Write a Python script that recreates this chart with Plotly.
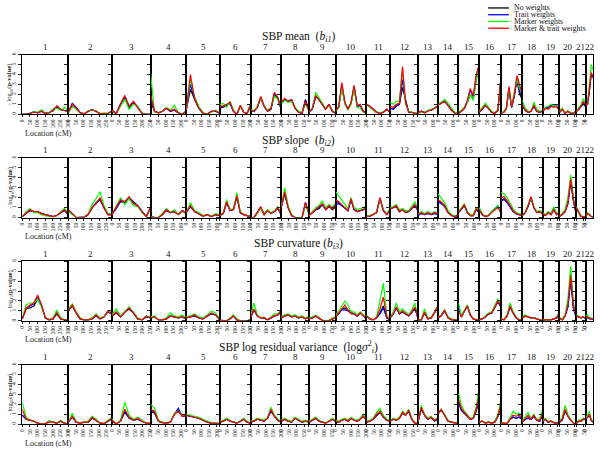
import plotly.graph_objects as go

# ---------------- data ----------------
CHROMS = [str(i) for i in range(1, 23)]
CHROM_LEN = [300, 284, 252, 232, 219, 200, 200, 181, 174, 200, 155, 181,
             129, 135, 135, 142, 139, 132, 110, 110, 61, 48]
TICK_STEP = 50
Y_TICKS = [0, 1, 2, 3, 4, 5, 6]

PANEL_TITLES = [
    "SBP mean  (<i>b</i><sub><i>i1</i></sub>)",
    "SBP slope  (<i>b</i><sub><i>i2</i></sub>)",
    "SBP curvature (<i>b</i><sub><i>i3</i></sub>)",
    "SBP log residual variance  (log<i>σ</i><sup>2</sup><sub><i>i</i></sub>)",
]
SERIES_NAMES = ["No weights", "Trait weights", "Marker weights", "Marker & trait weights"]
SERIES_COLORS = ["#000000", "#0000ff", "#00ff00", "#ff0000"]

# ---- SBP mean ----
MEAN_NONE = [
    [0, 0, 0.1, 0.25, 0.15, 0.3, 0.1, 0.15, 0.35, 0.75, 0.45, 0.35, 0.3],
    [0.2, 1.05, 0.65, 0.15, 0.05, 0.3, 0.45, 0.3, 0.05, 0.1, 0.1, 0.3],
    [0.4, 0.05, 1.0, 1.7, 0.7, 1.2, 0.7, 0.1, 0, 0],
    [1.3, 0.3, 0.15, 0.3, 0.6, 0.3, 0.4, 0.15, 0, 0.3],
    [0.4, 2.5, 1.5, 0.6, 0.1, 0, 0.3, 0.3, 0.1],
    [0.6, 0.7, 0.9, 1.1, 0.3, 0, 0.8, 0.2, 0.1, 0.8],
    [0.4, 0.3, 0.7, 1.6, 0.8, 0.3, 0.5, 2.0, 1.6, 0.5],
    [1.2, 1.5, 1.3, 1.4, 0.6, 0.2, 0.1, 1.5, 0.3],
    [0.2, 0.5, 1.8, 1.5, 1.0, 0.5, 1.0, 0.3, 0.1],
    [0.3, 0.7, 2.8, 1.1, 0.5, 1.1, 2.7, 0.8, 0.9, 0.3, 0.1],
    [1.0, 0.8, 0.5, 0.2, 0.1, 0.2, 0.5, 0.2],
    [0.6, 0.5, 0.8, 1.0, 2.7, 1.5, 0.2, 0.2, 0.1, 0.1],
    [0.1, 0.3, 0.15, 0.35, 0.4, 0.6, 0.8],
    [0.9, 1.1, 1.3, 0.9, 0.4, 0.1, 0.05],
    [0.1, 0.3, 0.6, 1.2, 2.0, 1.5, 3.5, 4.8],
    [0.2, 0.5, 0.9, 0.6, 0.2, 0.1, 0.4, 3.5],
    [0.1, 0.2, 0.5, 2.5, 0.7, 1.8, 3.4, 2.0, 1.5],
    [0.9, 0.4, 0.2, 0.3, 0.8, 0.3, 0.2, 0.3],
    [0.3, 0.6, 0.6, 0.8, 0.8, 0.8, 0.4],
    [0.2, 0.5, 0.1, 0.3, 0.1, 0.1, 0.3],
    [0.3, 0.5, 0.8, 1.0, 0.8],
    [0.9, 1.0, 2.3, 4.0, 3.7],
]
MEAN_TRAIT = [
    [0, 0, 0.1, 0.25, 0.15, 0.3, 0.1, 0.15, 0.4, 0.8, 0.45, 0.35, 0.3],
    [0.2, 1.1, 0.7, 0.15, 0.05, 0.3, 0.45, 0.3, 0.05, 0.1, 0.1, 0.3],
    [0.4, 0.05, 1.0, 1.8, 0.75, 1.25, 0.7, 0.1, 0, 0],
    [1.5, 0.3, 0.15, 0.3, 0.6, 0.3, 0.45, 0.15, 0, 0.3],
    [0.4, 3.0, 1.5, 0.6, 0.1, 0, 0.3, 0.3, 0.1],
    [0.7, 0.8, 0.9, 1.1, 0.3, 0, 0.85, 0.2, 0.1, 0.85],
    [0.4, 0.3, 0.7, 1.7, 0.8, 0.3, 0.55, 2.1, 1.6, 0.5],
    [1.2, 1.5, 1.3, 1.4, 0.6, 0.2, 0.1, 1.4, 0.3],
    [0.2, 0.5, 1.8, 1.5, 1.0, 0.5, 1.0, 0.3, 0.1],
    [0.3, 0.75, 3.0, 1.1, 0.5, 1.1, 2.8, 0.8, 0.9, 0.3, 0.1],
    [1.0, 0.8, 0.5, 0.2, 0.1, 0.2, 0.5, 0.2],
    [0.6, 0.5, 0.9, 1.0, 3.5, 1.3, 0.2, 0.2, 0.1, 0.1],
    [0.1, 0.3, 0.2, 0.35, 0.4, 0.6, 0.8],
    [0.9, 1.1, 1.3, 0.9, 0.4, 0.1, 0.05],
    [0.1, 0.3, 0.6, 1.3, 2.4, 1.8, 3.8, 4.9],
    [0.2, 0.5, 0.9, 0.6, 0.2, 0.1, 0.4, 3.6],
    [0.1, 0.2, 0.5, 2.6, 0.7, 1.9, 3.6, 2.3, 1.8],
    [0.9, 0.4, 0.2, 0.3, 0.8, 0.3, 0.2, 0.3],
    [0.3, 0.6, 0.7, 0.9, 1.0, 0.9, 0.4],
    [0.2, 0.5, 0.1, 0.3, 0.1, 0.1, 0.3],
    [0.3, 0.5, 0.8, 1.1, 0.8],
    [0.9, 1.0, 2.4, 4.1, 3.7],
]
MEAN_MARKER = [
    [0, 0, 0.05, 0.25, 0.2, 0.45, 0.15, 0.1, 0.55, 0.6, 0.4, 0.7, 0.3],
    [0.1, 0.8, 0.5, 0.1, 0.05, 0.35, 0.45, 0.35, 0.05, 0.15, 0.1, 0.3],
    [0.3, 0.05, 0.8, 1.5, 0.5, 1.0, 0.8, 0.15, 0, 0],
    [4.1, 0.2, 0.15, 0.3, 0.7, 0.4, 0.9, 0.2, 0, 0.3],
    [0.4, 3.5, 1.8, 0.8, 0.2, 0, 0.2, 0.4, 0.1],
    [1.0, 1.1, 0.7, 1.3, 0.4, 0.05, 0.8, 0.2, 0.15, 1.0],
    [0.5, 0.4, 0.8, 1.6, 0.9, 0.4, 0.7, 1.8, 1.5, 0.6],
    [1.0, 1.4, 1.2, 1.3, 0.7, 0.3, 0.2, 1.0, 0.4],
    [0.2, 0.6, 2.2, 1.7, 1.1, 0.6, 0.9, 0.4, 0.1],
    [0.3, 0.7, 2.6, 1.0, 0.4, 1.0, 2.5, 0.7, 0.6, 0.2, 0.1],
    [1.0, 0.7, 0.4, 0.3, 0.1, 0.3, 0.4, 0.3],
    [1.2, 1.0, 1.3, 1.3, 4.5, 1.0, 0.3, 0.2, 0.1, 0.1],
    [0.1, 0.2, 0.2, 0.4, 0.5, 0.6, 0.9],
    [0.9, 1.2, 1.5, 1.1, 0.6, 0.2, 0.1],
    [0.2, 0.4, 0.7, 1.2, 2.0, 1.4, 3.5, 4.6],
    [0.3, 0.7, 1.1, 0.7, 0.3, 0.1, 0.5, 3.3],
    [0.1, 0.3, 0.5, 2.5, 0.8, 2.2, 3.5, 2.6, 2.2],
    [1.4, 0.6, 0.3, 0.3, 1.2, 0.5, 0.3, 0.4],
    [0.4, 0.7, 0.8, 1.0, 0.8, 0.9, 0.5],
    [0.3, 0.6, 0.2, 0.3, 0.2, 0.1, 0.3],
    [0.3, 0.6, 1.0, 1.6, 1.0],
    [0.9, 1.1, 3.0, 5.0, 4.5],
]
MEAN_BOTH = [
    [0, 0, 0.05, 0.2, 0.15, 0.3, 0.1, 0.15, 0.4, 0.85, 0.5, 0.35, 0.3],
    [0.2, 1.0, 0.6, 0.15, 0.05, 0.3, 0.45, 0.3, 0.05, 0.1, 0.1, 0.3],
    [0.4, 0.05, 1.0, 1.9, 0.8, 1.3, 0.7, 0.1, 0, 0],
    [2.0, 0.3, 0.15, 0.3, 0.6, 0.35, 0.5, 0.15, 0, 0.3],
    [0.4, 4.0, 1.6, 0.6, 0.1, 0, 0.3, 0.35, 0.1],
    [0.8, 0.85, 1.0, 1.2, 0.3, 0, 0.9, 0.2, 0.1, 0.9],
    [0.4, 0.3, 0.7, 1.8, 0.8, 0.3, 0.6, 2.2, 1.7, 0.5],
    [1.2, 1.6, 1.3, 1.5, 0.6, 0.2, 0.1, 1.3, 0.3],
    [0.2, 0.6, 1.9, 1.5, 1.0, 0.5, 1.0, 0.3, 0.1],
    [0.3, 0.8, 3.2, 1.2, 0.5, 1.2, 2.9, 0.9, 1.0, 0.3, 0.1],
    [1.0, 0.8, 0.5, 0.2, 0.1, 0.2, 0.5, 0.2],
    [0.8, 0.7, 1.0, 1.1, 4.8, 1.2, 0.2, 0.2, 0.1, 0.1],
    [0.1, 0.3, 0.15, 0.3, 0.4, 0.6, 0.8],
    [0.9, 1.1, 1.3, 0.9, 0.4, 0.1, 0.05],
    [0.1, 0.3, 0.6, 1.4, 2.6, 1.9, 4.0, 5.0],
    [0.2, 0.5, 0.9, 0.6, 0.2, 0.1, 0.4, 3.7],
    [0.1, 0.2, 0.6, 2.8, 0.7, 2.0, 3.9, 2.8, 2.0],
    [1.0, 0.4, 0.2, 0.3, 0.9, 0.3, 0.2, 0.3],
    [0.3, 0.6, 0.5, 0.8, 0.7, 0.8, 0.4],
    [0.2, 0.5, 0.1, 0.3, 0.1, 0.1, 0.3],
    [0.3, 0.5, 0.8, 1.3, 0.9],
    [0.9, 1.0, 2.5, 4.2, 3.8],
]

# ---- SBP slope ----
SLOPE_NONE = [
    [0.1, 0.4, 0.7, 0.6, 0.6, 0.4, 0.3, 0.15, 0.1, 0.2, 0.5, 0.7, 0.3],
    [0.7, 0.4, 0, 0, 0.05, 0.3, 1.0, 1.4, 1.8, 1.0, 0.3, 0.3],
    [0.3, 0.9, 1.6, 1.5, 2.0, 1.6, 1.2, 0.6, 0.1, 1.0],
    [0.1, 0, 0, 0.3, 0.7, 0.5, 0.6, 0.3, 0.7, 0.4],
    [0.5, 1.1, 0.6, 0.4, 0.15, 0.3, 0.1, 0.3, 0.2],
    [0.2, 0.4, 1.5, 0.7, 0.8, 2.1, 0.5, 0.3, 0.2, 0.1],
    [0, 0, 0.5, 1.0, 0.3, 0.7, 0.4, 0.6, 0.9, 0.3],
    [1.0, 2.4, 1.0, 0.2, 0, 0, 0, 1.5, 0.4],
    [0.2, 0.5, 0.8, 0.9, 1.3, 0.8, 1.1, 0.8, 1.1],
    [1.7, 1.5, 1.2, 0.9, 0.7, 1.8, 0.8, 0.6, 0.7, 0.8, 0.9],
    [0.1, 0.15, 0.3, 0.5, 1.9, 0.7, 0.3, 0.8],
    [0.9, 1.0, 1.1, 0.6, 0.8, 0.5, 0.6, 0.9, 1.2, 0.7],
    [0.2, 0.5, 0.3, 0.5, 0.3, 0.5, 0.4],
    [1.7, 1.5, 1.2, 0.5, 0.2, 0.1, 0.3],
    [0.5, 0.9, 1.2, 0.5, 0.2, 0.2, 0.8, 0.5],
    [0.8, 0.3, 0.1, 0.2, 0.6, 0.9, 1.1, 0.5],
    [1.7, 1.9, 1.6, 1.1, 0.6, 0.4, 0.3, 0.2],
    [0.2, 0.5, 1.1, 2.0, 1.0, 0.5, 0.6, 0.4],
    [0.4, 0.2, 0.5, 0.3, 0.8, 0.3, 0.5],
    [0.1, 0.3, 0.6, 1.4, 3.6, 1.6, 0.3],
    [1.0, 0.5, 0.1, 0.1, 0.1],
    [0.1, 0.4, 0.3, 0.1, 0.05],
]
SLOPE_TRAIT = [
    [0.1, 0.45, 0.75, 0.6, 0.6, 0.4, 0.3, 0.15, 0.1, 0.2, 0.5, 0.75, 0.3],
    [0.7, 0.4, 0, 0, 0.05, 0.3, 1.0, 1.5, 1.9, 1.0, 0.3, 0.3],
    [0.3, 0.9, 1.7, 1.5, 2.0, 1.5, 1.2, 0.6, 0.1, 1.0],
    [0.1, 0, 0, 0.3, 0.75, 0.5, 0.6, 0.3, 0.7, 0.4],
    [0.5, 1.15, 0.6, 0.4, 0.15, 0.3, 0.1, 0.3, 0.2],
    [0.2, 0.4, 1.5, 0.7, 0.8, 2.2, 0.5, 0.3, 0.2, 0.1],
    [0, 0, 0.5, 1.05, 0.3, 0.7, 0.4, 0.6, 0.95, 0.3],
    [1.0, 2.5, 1.0, 0.2, 0, 0, 0, 1.5, 0.4],
    [0.2, 0.5, 0.8, 1.0, 1.3, 0.8, 1.2, 1.0, 1.2],
    [1.3, 1.4, 1.2, 0.9, 0.7, 1.8, 0.8, 0.6, 0.7, 0.8, 0.9],
    [0.1, 0.15, 0.3, 0.5, 1.95, 0.7, 0.3, 0.8],
    [0.9, 1.0, 1.15, 0.6, 0.8, 0.5, 0.6, 0.9, 1.25, 0.7],
    [0.2, 0.4, 0.3, 0.4, 0.3, 0.4, 0.3],
    [1.6, 1.4, 1.1, 0.5, 0.2, 0.1, 0.3],
    [0.5, 0.9, 1.25, 0.5, 0.2, 0.2, 0.85, 0.5],
    [0.8, 0.3, 0.1, 0.2, 0.6, 0.9, 1.2, 0.6],
    [1.7, 1.8, 1.5, 1.1, 0.6, 0.4, 0.3, 0.2],
    [0.2, 0.5, 1.15, 2.0, 1.0, 0.5, 0.6, 0.4],
    [0.4, 0.2, 0.5, 0.3, 0.85, 0.3, 0.5],
    [0.1, 0.3, 0.6, 1.4, 3.7, 1.7, 0.3],
    [1.0, 0.5, 0.1, 0.1, 0.1],
    [0.1, 0.4, 0.3, 0.1, 0.05],
]
SLOPE_MARKER = [
    [0.1, 0.6, 0.9, 0.5, 0.5, 0.3, 0.2, 0.1, 0.05, 0.2, 0.6, 0.95, 0.4],
    [0.6, 0.3, 0, 0, 0.05, 0.4, 1.3, 1.9, 2.6, 1.2, 0.4, 0.4],
    [0.3, 1.1, 2.0, 1.3, 1.9, 1.2, 1.1, 0.5, 0.1, 0.9],
    [0.1, 0, 0, 0.4, 0.9, 0.5, 0.8, 0.3, 0.6, 0.5],
    [0.5, 1.5, 0.7, 0.5, 0.2, 0.3, 0.15, 0.4, 0.3],
    [0.2, 0.5, 1.8, 0.8, 0.9, 2.5, 0.6, 0.3, 0.2, 0.1],
    [0, 0, 0.4, 1.0, 0.4, 0.8, 0.5, 0.7, 1.1, 0.4],
    [1.1, 3.0, 1.2, 0.3, 0, 0, 0, 1.3, 0.4],
    [0.2, 0.6, 1.0, 1.2, 1.7, 1.0, 1.3, 1.0, 1.5],
    [2.6, 2.2, 1.8, 1.3, 0.9, 2.0, 1.0, 0.8, 0.9, 1.0, 1.2],
    [0.1, 0.2, 0.3, 0.6, 1.8, 0.8, 0.4, 0.9],
    [1.0, 1.1, 1.3, 0.8, 0.9, 0.7, 0.7, 1.1, 1.6, 0.9],
    [0.3, 0.6, 0.4, 0.6, 0.4, 0.6, 0.4],
    [2.4, 2.0, 1.5, 0.7, 0.3, 0.1, 0.4],
    [0.6, 1.0, 1.4, 0.6, 0.3, 0.3, 1.0, 0.7],
    [1.0, 0.4, 0.1, 0.2, 0.6, 0.9, 1.2, 0.6],
    [2.5, 2.4, 2.0, 1.4, 0.9, 0.5, 0.4, 0.3],
    [0.2, 0.5, 1.3, 2.0, 1.1, 0.6, 0.7, 0.5],
    [0.5, 0.3, 0.6, 0.4, 1.1, 0.4, 0.5],
    [0.1, 0.4, 0.8, 2.0, 4.3, 2.0, 0.4],
    [1.1, 0.5, 0.2, 0.1, 0.1],
    [0.1, 0.5, 0.3, 0.1, 0.05],
]
SLOPE_BOTH = [
    [0.1, 0.5, 0.8, 0.6, 0.6, 0.4, 0.3, 0.15, 0.1, 0.2, 0.5, 0.8, 0.3],
    [0.8, 0.4, 0, 0, 0.05, 0.3, 1.0, 1.4, 2.0, 1.0, 0.3, 0.3],
    [0.3, 1.0, 1.8, 1.6, 2.1, 1.4, 1.2, 0.6, 0.1, 1.0],
    [0.1, 0, 0, 0.3, 0.8, 0.5, 0.6, 0.3, 0.7, 0.4],
    [0.5, 1.2, 0.6, 0.4, 0.15, 0.3, 0.1, 0.3, 0.2],
    [0.2, 0.4, 1.6, 0.7, 0.8, 2.2, 0.5, 0.3, 0.2, 0.1],
    [0, 0, 0.5, 1.1, 0.3, 0.7, 0.4, 0.6, 1.0, 0.3],
    [1.0, 2.6, 1.0, 0.2, 0, 0, 0, 1.5, 0.4],
    [0.2, 0.5, 0.8, 1.0, 1.4, 0.8, 1.2, 0.9, 1.3],
    [1.8, 1.6, 1.3, 1.0, 0.7, 1.9, 0.8, 0.6, 0.7, 0.8, 1.0],
    [0.1, 0.15, 0.3, 0.5, 2.0, 0.7, 0.3, 0.8],
    [0.9, 1.0, 1.2, 0.6, 0.8, 0.5, 0.6, 0.9, 1.3, 0.7],
    [0.3, 0.5, 0.3, 0.5, 0.3, 0.5, 0.4],
    [1.8, 1.6, 1.2, 0.5, 0.2, 0.1, 0.3],
    [0.5, 0.9, 1.3, 0.5, 0.2, 0.2, 0.9, 0.6],
    [0.8, 0.3, 0.1, 0.2, 0.5, 0.8, 1.0, 0.5],
    [2.0, 2.1, 1.7, 1.2, 0.7, 0.4, 0.3, 0.2],
    [0.2, 0.5, 1.2, 2.1, 1.0, 0.5, 0.6, 0.4],
    [0.4, 0.2, 0.5, 0.3, 0.8, 0.3, 0.5],
    [0.1, 0.3, 0.6, 1.5, 3.9, 1.8, 0.3],
    [1.0, 0.5, 0.1, 0.1, 0.1],
    [0.1, 0.4, 0.3, 0.1, 0.05],
]

# ---- SBP curvature ----
CURV_NONE = [
    [0.2, 1.2, 1.3, 1.5, 2.2, 1.5, 0.3, 0.1, 0.2, 0.7, 0.2, 0.1, 0.1],
    [1.0, 1.5, 0.8, 0.2, 0.1, 0.1, 0.2, 0.5, 0.2, 0.4, 0.9, 0.7],
    [0.5, 0.8, 0.4, 0.9, 1.2, 0.8, 0.2, 0.1, 0.4, 0.3],
    [0.3, 0.4, 0.1, 0.1, 0.2, 0.5, 0.4, 0.3, 0.4, 0.2],
    [0.4, 0.4, 0.5, 0.3, 0.2, 0.5, 0.7, 0.6, 0.1],
    [0.05, 0, 0, 0.2, 0.5, 0.1, 0, 0, 0, 0.1],
    [0.3, 1.1, 0.5, 0.3, 0.3, 0.1, 0.3, 0.5, 0.6, 0.9],
    [0.3, 0.5, 0.6, 0.4, 0.5, 0.3, 0.4, 0.2, 0.4],
    [0.2, 0.3, 0.5, 0.3, 0.05, 0, 0, 0.2, 0.3],
    [0.4, 0.7, 1.2, 1.3, 1.1, 0.9, 0.7, 0.5, 0.8, 0.5, 0.2],
    [0.5, 0.2, 0.1, 0.3, 0.8, 1.5, 0.3, 0.1],
    [0.3, 0.7, 1.3, 0.7, 0.9, 0.7, 0.5, 0.8, 1.3, 0.3],
    [0.1, 0.1, 0.8, 0.2, 0.3, 0.8, 1.4],
    [0.3, 0.5, 1.0, 0.3, 0.1, 0.1, 0.1],
    [1.3, 0.4, 1.0, 1.5, 0.6, 0.2, 0.1, 0.1],
    [0.1, 0.2, 0.4, 0.7, 0.8, 1.3, 1.9, 1.4],
    [0.2, 0.1, 0.5, 1.4, 0.8, 0.3, 0.1, 0.1],
    [0.3, 0.5, 0.4, 0.3, 0.3, 0.2, 0.1, 0.1],
    [0.1, 0.1, 0.1, 0.1, 0.2, 0.3, 0.8],
    [0.3, 0.1, 0.5, 1.4, 4.2, 1.3, 0.3],
    [0.5, 0.4, 0.3, 0.4, 0.2],
    [0.3, 0.4, 0.3, 0.2, 0.2],
]
CURV_TRAIT = [
    [0.2, 1.3, 1.5, 1.7, 2.4, 1.6, 0.3, 0.1, 0.2, 0.8, 0.2, 0.1, 0.1],
    [1.0, 1.55, 0.8, 0.2, 0.1, 0.1, 0.2, 0.55, 0.2, 0.4, 0.95, 0.7],
    [0.5, 0.85, 0.4, 0.9, 1.25, 0.8, 0.2, 0.1, 0.45, 0.3],
    [0.3, 0.4, 0.1, 0.1, 0.2, 0.5, 0.4, 0.3, 0.4, 0.2],
    [0.4, 0.4, 0.55, 0.3, 0.2, 0.5, 0.75, 0.6, 0.1],
    [0.05, 0, 0, 0.2, 0.5, 0.1, 0, 0, 0, 0.1],
    [0.3, 1.15, 0.5, 0.3, 0.3, 0.1, 0.3, 0.5, 0.6, 0.95],
    [0.3, 0.5, 0.6, 0.4, 0.5, 0.3, 0.4, 0.2, 0.4],
    [0.2, 0.3, 0.5, 0.3, 0.05, 0, 0, 0.2, 0.3],
    [0.4, 0.7, 1.1, 1.1, 1.0, 0.8, 0.7, 0.5, 0.8, 0.5, 0.2],
    [0.5, 0.2, 0.1, 0.3, 0.7, 1.3, 0.3, 0.1],
    [0.3, 0.7, 1.35, 0.7, 0.95, 0.7, 0.5, 0.85, 1.35, 0.3],
    [0.1, 0.1, 0.85, 0.2, 0.3, 0.8, 1.45],
    [0.3, 0.5, 1.05, 0.3, 0.1, 0.1, 0.1],
    [1.4, 0.4, 1.0, 1.5, 0.6, 0.2, 0.1, 0.1],
    [0.1, 0.2, 0.4, 0.7, 0.8, 1.35, 1.95, 1.45],
    [0.2, 0.1, 0.5, 1.45, 0.8, 0.3, 0.1, 0.1],
    [0.3, 0.5, 0.4, 0.3, 0.3, 0.2, 0.1, 0.1],
    [0.1, 0.1, 0.1, 0.1, 0.2, 0.3, 0.8],
    [0.3, 0.1, 0.5, 1.4, 4.0, 1.2, 0.3],
    [0.5, 0.4, 0.3, 0.4, 0.2],
    [0.3, 0.3, 0.2, 0.2, 0.2],
]
CURV_MARKER = [
    [0.3, 1.6, 1.8, 1.8, 2.2, 1.4, 0.4, 0.1, 0.3, 1.1, 0.3, 0.1, 0.1],
    [1.2, 1.7, 0.9, 0.3, 0.1, 0.1, 0.3, 0.7, 0.3, 0.4, 1.0, 0.8],
    [0.6, 1.2, 0.5, 1.0, 1.4, 0.9, 0.3, 0.1, 0.5, 0.3],
    [0.4, 0.5, 0.1, 0.1, 0.3, 0.8, 0.5, 0.4, 0.6, 0.3],
    [0.4, 0.5, 0.7, 0.4, 0.3, 0.6, 1.0, 0.8, 0.2],
    [0.05, 0, 0, 0.3, 0.6, 0.2, 0, 0, 0, 0.1],
    [0.4, 1.8, 0.6, 0.3, 0.4, 0.1, 0.4, 0.7, 0.7, 1.1],
    [0.4, 0.6, 0.7, 0.5, 0.6, 0.4, 0.5, 0.3, 0.4],
    [0.3, 0.4, 0.6, 0.3, 0.05, 0, 0.05, 0.3, 0.4],
    [0.5, 1.0, 1.6, 2.0, 1.6, 0.9, 0.9, 0.6, 0.9, 0.6, 0.3],
    [0.6, 0.2, 0.1, 0.4, 2.0, 3.8, 0.6, 0.1],
    [0.3, 0.9, 1.8, 0.9, 1.2, 0.9, 0.6, 1.1, 1.8, 0.4],
    [0.1, 0.1, 1.2, 0.3, 0.3, 0.9, 1.5],
    [0.3, 0.6, 1.1, 0.4, 0.2, 0.1, 0.1],
    [1.8, 0.5, 1.1, 1.6, 0.7, 0.2, 0.1, 0.1],
    [0.1, 0.2, 0.5, 0.8, 0.9, 1.6, 2.2, 1.7],
    [0.3, 0.1, 0.6, 1.8, 0.9, 0.4, 0.1, 0.1],
    [0.4, 0.6, 0.4, 0.3, 0.3, 0.2, 0.1, 0.1],
    [0.1, 0.1, 0.1, 0.1, 0.2, 0.3, 0.9],
    [0.3, 0.2, 0.6, 2.2, 5.5, 1.8, 0.4],
    [0.6, 0.5, 0.3, 0.4, 0.2],
    [0.5, 0.6, 0.3, 0.3, 0.2],
]
CURV_BOTH = [
    [0.2, 1.3, 1.6, 1.8, 2.6, 1.6, 0.3, 0.1, 0.2, 0.8, 0.2, 0.1, 0.1],
    [1.0, 1.6, 0.8, 0.2, 0.1, 0.1, 0.2, 0.6, 0.2, 0.4, 1.0, 0.7],
    [0.5, 0.9, 0.4, 0.9, 1.3, 0.8, 0.2, 0.1, 0.5, 0.3],
    [0.3, 0.4, 0.1, 0.1, 0.2, 0.5, 0.4, 0.3, 0.4, 0.2],
    [0.3, 0.4, 0.6, 0.3, 0.2, 0.5, 0.8, 0.6, 0.1],
    [0.05, 0, 0, 0.2, 0.5, 0.1, 0, 0, 0, 0.1],
    [0.3, 1.2, 0.5, 0.3, 0.3, 0.1, 0.3, 0.5, 0.6, 1.0],
    [0.3, 0.5, 0.6, 0.4, 0.5, 0.3, 0.4, 0.2, 0.4],
    [0.2, 0.3, 0.5, 0.3, 0.05, 0, 0, 0.2, 0.3],
    [0.4, 0.8, 1.3, 1.6, 1.1, 0.7, 0.7, 0.5, 0.8, 0.5, 0.2],
    [0.5, 0.2, 0.1, 0.3, 1.2, 2.4, 0.4, 0.1],
    [0.3, 0.7, 1.4, 0.7, 1.0, 0.7, 0.5, 0.9, 1.4, 0.3],
    [0.1, 0.1, 0.9, 0.2, 0.3, 0.8, 1.5],
    [0.3, 0.5, 1.1, 0.3, 0.1, 0.1, 0.1],
    [1.0, 0.4, 1.0, 1.5, 0.6, 0.2, 0.1, 0.1],
    [0.1, 0.2, 0.4, 0.7, 0.8, 1.4, 2.0, 1.5],
    [0.2, 0.1, 0.5, 1.5, 0.8, 0.3, 0.1, 0.1],
    [0.3, 0.5, 0.4, 0.3, 0.3, 0.2, 0.1, 0.1],
    [0.1, 0.1, 0.1, 0.1, 0.2, 0.3, 0.8],
    [0.3, 0.1, 0.5, 1.6, 4.6, 1.5, 0.3],
    [0.5, 0.4, 0.3, 0.4, 0.2],
    [0.3, 0.4, 0.3, 0.2, 0.2],
]

# ---- SBP log residual variance ----
LOGVAR_NONE = [
    [0.9, 0.5, 0.4, 0.3, 0.1, 0, 0.05, 0.3, 0.2, 0.1, 0.3, 0.1, 0],
    [0.2, 0.7, 0.2, 0.1, 0.2, 0.2, 0.6, 0.4, 0.1, 0.05, 0.3, 0.5],
    [0.4, 0.05, 0.3, 1.2, 0.6, 0.4, 0.5, 0.3, 0.1, 0.05],
    [1.3, 1.1, 0.3, 0.15, 0.1, 0.2, 1.0, 1.4, 0.8, 0.8],
    [0.9, 0.8, 0.7, 0.6, 0.4, 0.2, 0.1, 0.1, 0.05],
    [0.2, 0.3, 0.5, 0.3, 0.2, 0.1, 0.3, 0.5, 0.2, 0.1],
    [0.2, 0.3, 0.5, 0.4, 0.3, 0.6, 1.3, 0.8, 0.4, 0.2],
    [0.3, 0.5, 0.3, 0.2, 0.6, 0.4, 0.2, 0.3, 0.2],
    [0.2, 0.4, 0.6, 0.3, 0.2, 0.1, 0.3, 0.5, 0.3],
    [0.3, 0.2, 0.4, 0.5, 0.3, 0.6, 0.4, 0.3, 0.5, 0.8, 0.4],
    [0.2, 0.3, 0.5, 0.9, 1.2, 0.7, 0.4, 0.3],
    [0.3, 0.5, 0.4, 0.6, 1.1, 0.9, 1.3, 0.5, 0.1, 0.05],
    [0.2, 1.5, 0.9, 0.5, 0.7, 0.3, 0.5],
    [1.0, 1.4, 0.9, 0.3, 0.2, 0.1, 0.05],
    [2.2, 1.4, 1.1, 0.8, 0.5, 0.6, 1.3, 2.4],
    [0.2, 0.3, 0.1, 0.2, 0.1, 0.2, 0.8, 1.7],
    [0.1, 0.05, 0.05, 0.5, 0.7, 0.6, 0.7, 0.5],
    [0.2, 0.5, 0.6, 0.5, 0.8, 0.4, 0.3, 0.9],
    [0.3, 0.5, 0.2, 0.3, 0.15, 0.1, 0.05],
    [0.2, 0.4, 1.3, 0.8, 0.4, 0.1, 0.05],
    [0.1, 0.3, 0.3, 0.5, 0.5],
    [0.5, 0.7, 0.9, 0.4, 0.2],
]
LOGVAR_TRAIT = [
    [0.9, 0.5, 0.4, 0.3, 0.1, 0, 0.05, 0.3, 0.2, 0.1, 0.3, 0.1, 0],
    [0.2, 0.75, 0.2, 0.1, 0.2, 0.2, 0.65, 0.4, 0.1, 0.05, 0.3, 0.55],
    [0.4, 0.05, 0.3, 1.3, 0.65, 0.4, 0.5, 0.3, 0.1, 0.05],
    [1.4, 1.2, 0.3, 0.15, 0.1, 0.2, 1.0, 1.6, 0.8, 0.9],
    [0.9, 0.8, 0.7, 0.6, 0.4, 0.2, 0.1, 0.1, 0.05],
    [0.2, 0.3, 0.5, 0.3, 0.2, 0.1, 0.3, 0.5, 0.2, 0.1],
    [0.2, 0.3, 0.5, 0.4, 0.3, 0.6, 1.4, 0.8, 0.4, 0.2],
    [0.3, 0.5, 0.3, 0.2, 0.6, 0.4, 0.2, 0.3, 0.2],
    [0.2, 0.4, 0.6, 0.3, 0.2, 0.1, 0.3, 0.5, 0.3],
    [0.3, 0.2, 0.4, 0.5, 0.3, 0.6, 0.4, 0.3, 0.5, 0.8, 0.4],
    [0.2, 0.3, 0.5, 0.95, 1.25, 0.7, 0.4, 0.3],
    [0.3, 0.5, 0.4, 0.6, 1.15, 0.9, 1.35, 0.5, 0.1, 0.05],
    [0.2, 1.6, 0.9, 0.5, 0.7, 0.35, 0.55],
    [1.0, 1.45, 0.9, 0.3, 0.2, 0.1, 0.05],
    [2.2, 1.4, 1.1, 0.8, 0.5, 0.6, 1.4, 2.3],
    [0.2, 0.3, 0.1, 0.2, 0.1, 0.2, 0.8, 1.8],
    [0.1, 0.05, 0.05, 0.5, 0.7, 0.6, 0.7, 0.5],
    [0.2, 0.5, 0.6, 0.5, 0.8, 0.4, 0.3, 0.9],
    [0.3, 0.5, 0.2, 0.3, 0.15, 0.1, 0.05],
    [0.2, 0.45, 1.4, 0.8, 0.4, 0.1, 0.05],
    [0.1, 0.3, 0.3, 0.5, 0.5],
    [0.5, 0.75, 0.95, 0.4, 0.2],
]
LOGVAR_MARKER = [
    [2.2, 0.7, 0.4, 0.3, 0.1, 0, 0.05, 0.3, 0.2, 0.1, 0.4, 0.1, 0],
    [0.2, 1.1, 0.3, 0.1, 0.2, 0.3, 0.8, 0.5, 0.1, 0.05, 0.4, 0.7],
    [0.5, 0.05, 0.4, 2.2, 0.9, 0.5, 0.7, 0.4, 0.1, 0.05],
    [2.0, 1.6, 0.4, 0.2, 0.1, 0.2, 1.1, 1.3, 0.9, 1.0],
    [1.0, 0.9, 0.8, 0.7, 0.5, 0.3, 0.15, 0.1, 0.05],
    [0.3, 0.4, 0.6, 0.4, 0.2, 0.1, 0.4, 0.6, 0.3, 0.1],
    [0.3, 0.4, 0.6, 0.5, 0.4, 0.7, 1.7, 0.9, 0.5, 0.2],
    [0.4, 0.6, 0.4, 0.3, 0.7, 0.5, 0.3, 0.4, 0.3],
    [0.3, 0.5, 0.7, 0.4, 0.2, 0.1, 0.4, 0.6, 0.4],
    [0.4, 0.3, 0.5, 0.6, 0.4, 0.7, 0.5, 0.4, 0.6, 1.0, 0.5],
    [0.3, 0.4, 0.6, 1.2, 1.6, 0.9, 0.5, 0.4],
    [0.3, 0.6, 0.5, 0.7, 1.3, 1.0, 1.5, 0.6, 0.15, 0.05],
    [0.2, 1.9, 1.0, 0.6, 0.8, 0.4, 0.7],
    [1.0, 1.5, 1.0, 0.4, 0.2, 0.1, 0.05],
    [3.1, 1.9, 1.3, 0.9, 0.6, 0.7, 1.8, 3.7],
    [0.2, 0.3, 0.1, 0.2, 0.1, 0.3, 1.0, 2.4],
    [0.1, 0.05, 0.05, 0.7, 1.3, 1.0, 1.1, 0.8],
    [0.3, 0.8, 1.2, 0.6, 1.0, 0.5, 0.5, 1.5],
    [0.4, 0.6, 0.3, 0.3, 0.2, 0.1, 0.05],
    [0.3, 0.7, 1.9, 1.0, 0.5, 0.1, 0.05],
    [0.1, 0.4, 0.4, 0.6, 0.6],
    [0.6, 1.0, 1.3, 0.5, 0.2],
]
LOGVAR_BOTH = [
    [1.5, 0.5, 0.4, 0.3, 0.1, 0, 0.05, 0.2, 0.2, 0.1, 0.3, 0.1, 0],
    [0.2, 0.8, 0.2, 0.1, 0.2, 0.2, 0.7, 0.4, 0.1, 0.05, 0.3, 0.6],
    [0.4, 0.05, 0.3, 1.5, 0.7, 0.4, 0.6, 0.3, 0.1, 0.05],
    [1.5, 1.3, 0.3, 0.15, 0.1, 0.2, 1.0, 1.3, 0.8, 0.9],
    [0.9, 0.8, 0.7, 0.6, 0.4, 0.2, 0.1, 0.1, 0.05],
    [0.2, 0.3, 0.5, 0.3, 0.2, 0.1, 0.3, 0.5, 0.2, 0.1],
    [0.2, 0.3, 0.5, 0.4, 0.3, 0.6, 1.5, 0.8, 0.4, 0.2],
    [0.3, 0.5, 0.3, 0.2, 0.6, 0.4, 0.2, 0.3, 0.2],
    [0.2, 0.4, 0.6, 0.3, 0.2, 0.1, 0.3, 0.5, 0.3],
    [0.3, 0.2, 0.4, 0.5, 0.3, 0.6, 0.4, 0.3, 0.5, 0.8, 0.4],
    [0.2, 0.3, 0.5, 1.0, 1.3, 0.7, 0.4, 0.3],
    [0.3, 0.5, 0.4, 0.6, 1.2, 0.9, 1.4, 0.5, 0.1, 0.05],
    [0.2, 1.7, 0.9, 0.5, 0.7, 0.4, 0.6],
    [1.0, 1.5, 0.9, 0.3, 0.2, 0.1, 0.05],
    [2.5, 1.6, 1.2, 0.8, 0.5, 0.6, 1.5, 3.0],
    [0.2, 0.3, 0.1, 0.2, 0.1, 0.2, 0.8, 2.0],
    [0.1, 0.05, 0.05, 0.5, 0.9, 0.8, 0.9, 0.6],
    [0.2, 0.6, 0.9, 0.5, 0.9, 0.4, 0.4, 1.0],
    [0.3, 0.5, 0.2, 0.3, 0.15, 0.1, 0.05],
    [0.2, 0.5, 1.5, 0.8, 0.4, 0.1, 0.05],
    [0.1, 0.3, 0.3, 0.5, 0.5],
    [0.5, 0.8, 1.0, 0.4, 0.2],
]

PANELS = [
    [MEAN_NONE, MEAN_TRAIT, MEAN_MARKER, MEAN_BOTH],
    [SLOPE_NONE, SLOPE_TRAIT, SLOPE_MARKER, SLOPE_BOTH],
    [CURV_NONE, CURV_TRAIT, CURV_MARKER, CURV_BOTH],
    [LOGVAR_NONE, LOGVAR_TRAIT, LOGVAR_MARKER, LOGVAR_BOTH],
]

# ---------------- geometry ----------------
W, H = 600, 451
X_LEFT, X_RIGHT = 19.5, 596.0
PANEL_TOPS = [53, 157, 261, 365]
PANEL_H = 60
SERIF = "Liberation Serif, Times New Roman, serif"


def px_x(v):
    return v / W


def px_y(v):
    return 1 - v / H


total = sum(CHROM_LEN)
bounds = []
acc = 0
for L in CHROM_LEN:
    a = X_LEFT + (X_RIGHT - X_LEFT) * acc / total
    acc += L
    b = X_LEFT + (X_RIGHT - X_LEFT) * acc / total
    bounds.append((a, b))

fig = go.Figure()
layout = {}
annotations = []

for p in range(4):
    top = PANEL_TOPS[p]
    bot = top + PANEL_H
    for c in range(22):
        k = p * 22 + c + 1
        sfx = "" if k == 1 else str(k)
        x0, x1 = bounds[c]
        L = CHROM_LEN[c]
        layout["xaxis" + sfx] = dict(
            domain=[px_x(x0), px_x(x1)], anchor="y" + sfx,
            range=[0, L], tickvals=list(range(0, L + 1, TICK_STEP)),
            tickangle=-90, tickfont=dict(size=5.5, family=SERIF, color="#222"),
            ticks="outside", ticklen=2, tickwidth=0.8, tickcolor="#222",
            showline=True, linecolor="black", linewidth=1, mirror=True,
            showgrid=False, zeroline=False, fixedrange=True,
        )
        layout["yaxis" + sfx] = dict(
            domain=[px_y(bot), px_y(top)], anchor="x" + sfx,
            range=[0, 6], tickvals=Y_TICKS, showticklabels=(c == 0),
            tickangle=-90, tickfont=dict(size=5.5, family=SERIF, color="#222"),
            ticks="outside", ticklen=3, tickwidth=0.8, tickcolor="#222",
            showline=True, linecolor="black", linewidth=1, mirror=True,
            showgrid=False, zeroline=False, fixedrange=True,
        )
        for s in range(4):
            vals = PANELS[p][s][c]
            n = len(vals)
            xs = [L * i / (n - 1) for i in range(n)]
            fig.add_trace(go.Scatter(
                x=xs, y=vals, mode="lines",
                line=dict(color=SERIES_COLORS[s], width=1.2),
                xaxis="x" + sfx, yaxis="y" + sfx,
                name=SERIES_NAMES[s], showlegend=False, hoverinfo="skip",
            ))
        # chromosome label
        annotations.append(dict(
            text=CHROMS[c], x=px_x((x0 + x1) / 2), y=px_y(top - 0.5),
            xref="paper", yref="paper", xanchor="center", yanchor="bottom",
            showarrow=False, font=dict(size=9, family=SERIF, color="#222"),
        ))
    # panel title
    annotations.append(dict(
        text=PANEL_TITLES[p], x=px_x(298), y=px_y(top - 17.5),
        xref="paper", yref="paper", xanchor="center", yanchor="middle",
        showarrow=False, font=dict(size=11.5, family=SERIF, color="#111"),
    ))
    # y-axis title
    annotations.append(dict(
        text="- log<sub>10</sub>(<b>p-value</b>)", x=px_x(7), y=px_y(top + PANEL_H / 2),
        xref="paper", yref="paper", xanchor="center", yanchor="middle",
        textangle=-90, showarrow=False, font=dict(size=6.5, family=SERIF, color="#222"),
    ))
    # x-axis title
    annotations.append(dict(
        text="Location (cM)", x=px_x(20), y=px_y(bot + 19),
        xref="paper", yref="paper", xanchor="left", yanchor="middle",
        showarrow=False, font=dict(size=8, family=SERIF, color="#222"),
    ))

# legend (drawn as key lines + text labels)
shapes = []
LEG_Y = [6.0, 12.8, 19.6, 26.4]
for s in range(4):
    shapes.append(dict(type="line", xref="paper", yref="paper",
                       x0=px_x(490), x1=px_x(511), y0=px_y(LEG_Y[s]), y1=px_y(LEG_Y[s]),
                       line=dict(color=SERIES_COLORS[s], width=1.3)))
    annotations.append(dict(
        text=SERIES_NAMES[s], x=px_x(514), y=px_y(LEG_Y[s]),
        xref="paper", yref="paper", xanchor="left", yanchor="middle",
        showarrow=False, font=dict(size=7.8, family=SERIF, color="#111"),
    ))

fig.update_layout(
    width=W, height=H, margin=dict(l=0, r=0, t=0, b=0),
    paper_bgcolor="white", plot_bgcolor="white",
    showlegend=False, annotations=annotations, shapes=shapes,
    **layout,
)

fig.write_html("out.html", config={"displayModeBar": False},
               post_script="document.body.style.margin='0';")
